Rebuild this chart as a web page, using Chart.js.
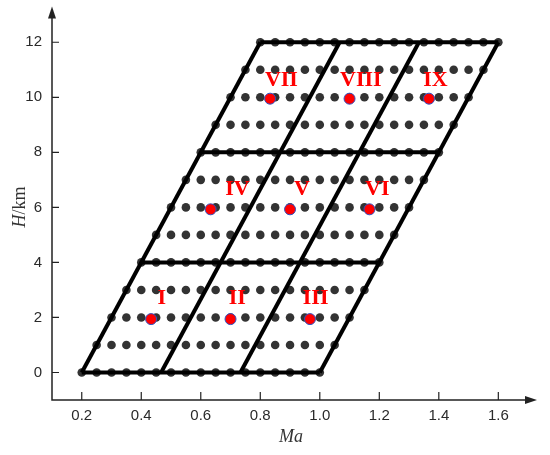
<!DOCTYPE html>
<html>
<head>
<meta charset="utf-8">
<script src="https://cdn.jsdelivr.net/npm/chart.js@4.4.0/dist/chart.umd.min.js"></script>
<style>
    html, body { margin: 0; padding: 0; background: #fff; }
    #wrap { width: 550px; height: 455px; }
</style>
</head>
<body>
<div id="wrap"><canvas id="chart" width="550" height="455"></canvas></div>
<script>
// 目盛り
const xTicks = [0.2, 0.4, 0.6, 0.8, 1.0, 1.2, 1.4, 1.6];
const yTicks = [0, 2, 4, 6, 8, 10, 12];

// 格子点: 高度ごとの行、各行の始点Ma、行内のMaオフセット
const rowH = [0, 1, 2, 3, 4, 5, 6, 7, 8, 9, 10, 11, 12];
const rowStartMa = [0.2, 0.25, 0.3, 0.35, 0.4, 0.45, 0.5, 0.55, 0.6, 0.65, 0.7, 0.75, 0.8];
const colOffsetMa = [0, 0.05, 0.1, 0.15, 0.2, 0.25, 0.3, 0.35, 0.4, 0.45, 0.5, 0.55, 0.6, 0.65, 0.7, 0.75, 0.8];

// 区画の枠線
const frameH = [0, 4, 8, 12];
const frameLeftMa = [0.2, 0.4, 0.6, 0.8];
const frameRightMa = [1.0, 1.2, 1.4, 1.6];
const slantBottomMa = [0.2, 0.4667, 0.7333, 1.0];
const slantTopMa = [0.8, 1.0667, 1.3333, 1.6];

// 代表点 (I～IX)
const zoneNames = ['I', 'II', 'III', 'IV', 'V', 'VI', 'VII', 'VIII', 'IX'];
const zoneMa = [0.433, 0.7, 0.967, 0.633, 0.9, 1.167, 0.833, 1.1, 1.367];
const zoneH = [1.94, 1.94, 1.94, 5.93, 5.93, 5.93, 9.95, 9.95, 9.95];
const labelMa = [0.469, 0.723, 0.986, 0.723, 0.94, 1.193, 0.871, 1.138, 1.389];
const labelH = [2.68, 2.68, 2.68, 6.65, 6.65, 6.65, 10.63, 10.63, 10.63];

// 格子点データ作成
const gridPoints = [];
rowH.forEach((h, i) => {
    colOffsetMa.forEach(off => {
        gridPoints.push({ x: +(rowStartMa[i] + off).toFixed(4), y: h });
    });
});

// 枠線データセット
const frameSets = [];
frameH.forEach((h, i) => {
    frameSets.push([{ x: frameLeftMa[i], y: h }, { x: frameRightMa[i], y: h }]);
});
slantBottomMa.forEach((m, i) => {
    frameSets.push([{ x: m, y: 0 }, { x: slantTopMa[i], y: 12 }]);
});

// 軸・目盛り・軸タイトル・ローマ数字の描画
const decorPlugin = {
    id: 'decor',
    afterDatasetsDraw(chart) {
        const ctx = chart.ctx;
        const xs = chart.scales.x;
        const ys = chart.scales.y;

        // ローマ数字ラベル
        ctx.save();
        ctx.fillStyle = '#ff0000';
        ctx.font = 'bold 22px "Liberation Serif", "DejaVu Serif", serif';
        ctx.textAlign = 'center';
        ctx.textBaseline = 'middle';
        zoneNames.forEach((name, i) => {
            ctx.fillText(name, xs.getPixelForValue(labelMa[i]), ys.getPixelForValue(labelH[i]));
        });
        ctx.restore();
    },
    afterDraw(chart) {
        const ctx = chart.ctx;
        const area = chart.chartArea;
        const xs = chart.scales.x;
        const ys = chart.scales.y;

        ctx.save();
        ctx.strokeStyle = '#222';
        ctx.fillStyle = '#222';
        ctx.lineWidth = 1.5;

        // 軸線
        ctx.beginPath();
        ctx.moveTo(area.left, area.top + 4);
        ctx.lineTo(area.left, area.bottom);
        ctx.lineTo(area.right - 4, area.bottom);
        ctx.stroke();

        // 矢印
        ctx.beginPath();
        ctx.moveTo(area.left, area.top);
        ctx.lineTo(area.left - 4, area.top + 12);
        ctx.lineTo(area.left + 4, area.top + 12);
        ctx.closePath();
        ctx.fill();
        ctx.beginPath();
        ctx.moveTo(area.right, area.bottom);
        ctx.lineTo(area.right - 12, area.bottom - 4);
        ctx.lineTo(area.right - 12, area.bottom + 4);
        ctx.closePath();
        ctx.fill();

        // 内向きの目盛り
        ctx.lineWidth = 1.2;
        ctx.beginPath();
        xTicks.forEach(v => {
            const px = xs.getPixelForValue(v);
            ctx.moveTo(px, area.bottom);
            ctx.lineTo(px, area.bottom - 8);
        });
        yTicks.forEach(v => {
            const py = ys.getPixelForValue(v);
            ctx.moveTo(area.left, py);
            ctx.lineTo(area.left + 7, py);
        });
        ctx.stroke();

        // 軸タイトル
        ctx.fillStyle = '#333';
        ctx.textBaseline = 'middle';
        ctx.font = 'italic 18px "Liberation Serif", serif';
        ctx.textAlign = 'center';
        ctx.fillText('Ma', 291, 437);

        ctx.translate(20, 207);
        ctx.rotate(-Math.PI / 2);
        ctx.font = 'italic 18px "Liberation Serif", serif';
        const wH = ctx.measureText('H').width;
        ctx.font = '18px "Liberation Serif", serif';
        const wKm = ctx.measureText('/km').width;
        const start = -(wH + wKm) / 2;
        ctx.textAlign = 'left';
        ctx.font = 'italic 18px "Liberation Serif", serif';
        ctx.fillText('H', start, 0);
        ctx.font = '18px "Liberation Serif", serif';
        ctx.fillText('/km', start + wH, 0);
        ctx.restore();
    }
};

// グラフの作成
const datasets = [];
frameSets.forEach(seg => {
    datasets.push({
        type: 'line',
        data: seg,
        borderColor: '#000',
        borderWidth: 4,
        pointRadius: 0,
        fill: false,
        tension: 0,
        order: 2
    });
});
datasets.push({
    type: 'scatter',
    data: gridPoints,
    backgroundColor: '#333',
    borderWidth: 0,
    pointRadius: 4.3,
    order: 3
});
datasets.push({
    type: 'scatter',
    data: zoneMa.map((m, i) => ({ x: m, y: zoneH[i] })),
    backgroundColor: '#ff0000',
    borderColor: '#3050c0',
    borderWidth: 1,
    pointRadius: 5.5,
    order: 1
});

new Chart(document.getElementById('chart').getContext('2d'), {
    type: 'scatter',
    data: { datasets: datasets },
    options: {
        responsive: false,
        animation: false,
        layout: { padding: { top: 2, right: 13, left: 0, bottom: 0 } },
        plugins: {
            legend: { display: false },
            tooltip: { enabled: false }
        },
        scales: {
            x: {
                type: 'linear',
                min: 0.1,
                max: 1.73,
                grid: { display: false, drawTicks: false },
                border: { display: false },
                afterBuildTicks: scale => { scale.ticks = xTicks.map(v => ({ value: v })); },
                afterFit: scale => {
                    scale.height = 55;
                    scale.paddingLeft = 0;
                    scale.paddingRight = 0;
                },
                ticks: {
                    padding: 7,
                    color: '#2a2a2a',
                    font: { family: '"Liberation Sans", Arial, sans-serif', size: 15 },
                    callback: v => v.toFixed(1)
                }
            },
            y: {
                type: 'linear',
                min: -1,
                max: 13.3,
                grid: { display: false, drawTicks: false },
                border: { display: false },
                afterBuildTicks: scale => { scale.ticks = yTicks.map(v => ({ value: v })); },
                afterFit: scale => {
                    scale.width = 52;
                    scale.paddingTop = 0;
                    scale.paddingBottom = 0;
                },
                ticks: {
                    padding: 10,
                    color: '#2a2a2a',
                    font: { family: '"Liberation Sans", Arial, sans-serif', size: 15 },
                    callback: v => String(v)
                }
            }
        }
    },
    plugins: [decorPlugin]
});
</script>
</body>
</html>
